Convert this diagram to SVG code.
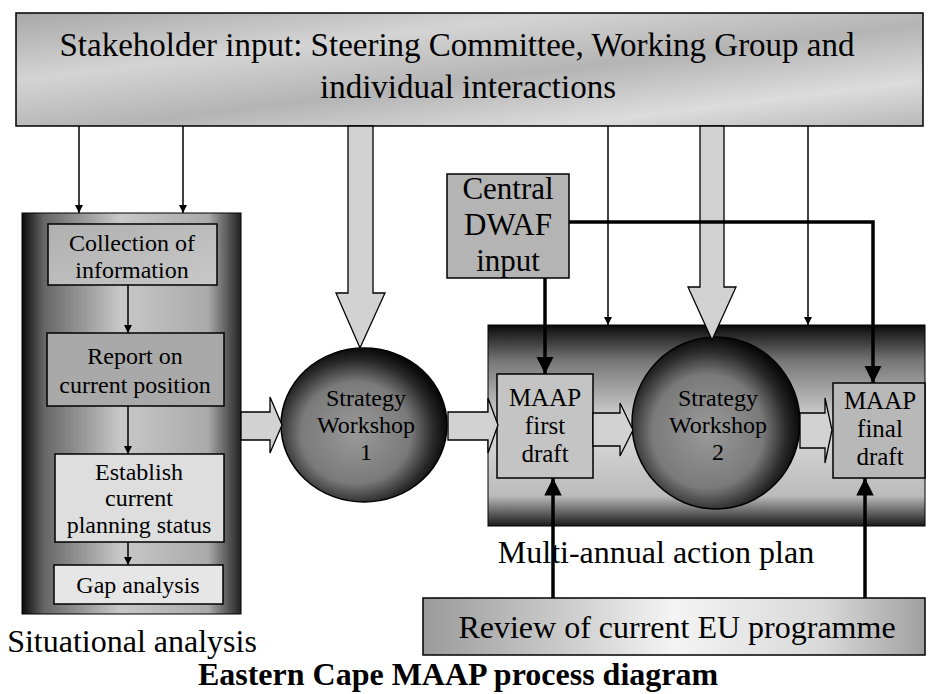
<svg xmlns="http://www.w3.org/2000/svg" width="928" height="694" viewBox="0 0 928 694">
<style>
text{font-family:"Liberation Serif","Times New Roman",serif;fill:#000;text-anchor:middle}
.box{stroke:#000;stroke-width:1.5}
.thin{stroke:#000;stroke-width:1.5;fill:none}
.thick{stroke:#000;stroke-width:3.5;fill:none}
.hollow{fill:#d2d2d2;stroke:#000;stroke-width:1.3}
</style>
<defs>
<linearGradient id="gTop" x1="0" y1="0" x2="1" y2="1">
<stop offset="0" stop-color="#a8a8a8"/><stop offset="0.3" stop-color="#d4d4d4"/><stop offset="0.55" stop-color="#b4b4b4"/><stop offset="0.8" stop-color="#dcdcdc"/><stop offset="1" stop-color="#b8b8b8"/>
</linearGradient>
<linearGradient id="gSit" x1="0" y1="0" x2="1" y2="0">
<stop offset="0" stop-color="#0a0a0a"/><stop offset="0.1" stop-color="#666"/><stop offset="0.45" stop-color="#c8c8c8"/><stop offset="0.85" stop-color="#aaa"/><stop offset="1" stop-color="#222"/>
</linearGradient>
<linearGradient id="gMulti" x1="0" y1="0" x2="0" y2="1">
<stop offset="0" stop-color="#0a0a0a"/><stop offset="0.18" stop-color="#777"/><stop offset="0.5" stop-color="#dcdcdc"/><stop offset="0.85" stop-color="#bbb"/><stop offset="1" stop-color="#1a1a1a"/>
</linearGradient>
<radialGradient id="gCirc" cx="0.45" cy="0.55" r="0.55">
<stop offset="0" stop-color="#9a9a9a"/><stop offset="0.6" stop-color="#7a7a7a"/><stop offset="0.85" stop-color="#2a2a2a"/><stop offset="1" stop-color="#0a0a0a"/>
</radialGradient>
<linearGradient id="gInner" x1="0" y1="0" x2="1" y2="1">
<stop offset="0" stop-color="#b0b0b0"/><stop offset="1" stop-color="#c8c8c8"/>
</linearGradient>
<linearGradient id="gRev" x1="0" y1="0" x2="1" y2="0">
<stop offset="0" stop-color="#9a9a9a"/><stop offset="0.3" stop-color="#cfcfcf"/><stop offset="0.5" stop-color="#f4f4f4"/><stop offset="0.8" stop-color="#d8d8d8"/><stop offset="1" stop-color="#a0a0a0"/>
</linearGradient>
<marker id="ah" viewBox="0 0 10 10" refX="10" refY="5" markerWidth="8" markerHeight="8" markerUnits="userSpaceOnUse" orient="auto">
<path d="M0,0 L10,5 L0,10 z" fill="#000"/>
</marker>
<marker id="ahb" viewBox="0 0 10 10" refX="10" refY="5" markerWidth="5" markerHeight="5" orient="auto">
<path d="M0,0 L10,5 L0,10 z" fill="#000"/>
</marker>
</defs>

<g id="stakeholder">
<rect class="box" x="16" y="13" width="907" height="113" fill="url(#gTop)"/>
<text x="457" y="56" font-size="33">Stakeholder input: Steering Committee, Working Group and</text>
<text x="468" y="98" font-size="33">individual interactions</text>
</g>

<g id="situational">
<rect x="22" y="213" width="219" height="401" fill="url(#gSit)" stroke="#000" stroke-width="1"/>
<text x="132" y="652" font-size="32">Situational analysis</text>
</g>

<g id="collection">
<rect class="box" x="48" y="224" width="169" height="61" fill="url(#gInner)" stroke-width="1"/>
<text x="132" y="251" font-size="24">Collection of</text>
<text x="132" y="278" font-size="24">information</text>
</g>
<g id="report">
<rect class="box" x="47" y="333" width="177" height="73" fill="#a9a9a9" stroke-width="1"/>
<text x="135" y="364" font-size="24">Report on</text>
<text x="135" y="393" font-size="24">current position</text>
</g>
<g id="establish">
<rect class="box" x="55" y="454" width="169" height="88" fill="#dedede" stroke-width="1"/>
<text x="139" y="480" font-size="24">Establish</text>
<text x="139" y="506" font-size="24">current</text>
<text x="139" y="533" font-size="24">planning status</text>
</g>
<g id="gap">
<rect class="box" x="54" y="565" width="169" height="39" fill="#e6e6e6" stroke-width="1"/>
<text x="138" y="593" font-size="24">Gap analysis</text>
</g>

<g id="workshop1">
<ellipse cx="364" cy="425" rx="83" ry="77" fill="url(#gCirc)" stroke="#000" stroke-width="1.5"/>
<text x="366" y="406" font-size="24">Strategy</text>
<text x="366" y="433" font-size="24">Workshop</text>
<text x="366" y="460" font-size="24">1</text>
</g>

<g id="multiannual">
<rect x="488" y="325" width="437" height="201" fill="url(#gMulti)" stroke="#000" stroke-width="1"/>
<text x="656" y="563" font-size="32">Multi-annual action plan</text>
</g>

<g id="central">
<rect class="box" x="447" y="174" width="122" height="104" fill="#b4b4b4" stroke-width="1"/>
<text x="508" y="199" font-size="31">Central</text>
<text x="508" y="235" font-size="31">DWAF</text>
<text x="508" y="271" font-size="31">input</text>
</g>

<g id="firstdraft">
<rect class="box" x="497" y="374" width="96" height="104" fill="#c4c4c4" stroke-width="1"/>
<text x="545" y="406" font-size="25">MAAP</text>
<text x="545" y="434" font-size="25">first</text>
<text x="545" y="462" font-size="25">draft</text>
</g>

<g id="workshop2">
<ellipse cx="716" cy="423" rx="84" ry="86" fill="url(#gCirc)" stroke="#000" stroke-width="1.5"/>
<text x="718" y="406" font-size="24" fill="#555">Strategy</text>
<text x="718" y="433" font-size="24">Workshop</text>
<text x="718" y="460" font-size="24" fill="#666">2</text>
</g>

<g id="finaldraft">
<rect class="box" x="833" y="383" width="92" height="95" fill="#b8b8b8" stroke-width="1"/>
<text x="880" y="409" font-size="25">MAAP</text>
<text x="880" y="437" font-size="25">final</text>
<text x="880" y="465" font-size="25">draft</text>
</g>

<g id="review">
<rect class="box" x="423" y="598" width="502" height="57" fill="url(#gRev)" stroke-width="1"/>
<text x="677" y="638" font-size="32">Review of current EU programme</text>
</g>

<text x="458" y="685" font-size="32" font-weight="bold">Eastern Cape MAAP process diagram</text>

<g id="connectors">
<line class="thin" x1="79" y1="126" x2="79" y2="213" marker-end="url(#ah)"/>
<line class="thin" x1="183" y1="126" x2="183" y2="213" marker-end="url(#ah)"/>
<line class="thin" x1="608" y1="126" x2="608" y2="325" marker-end="url(#ah)"/>
<line class="thin" x1="808" y1="126" x2="808" y2="325" marker-end="url(#ah)"/>
<line class="thin" x1="128" y1="285" x2="128" y2="333" marker-end="url(#ah)"/>
<line class="thin" x1="128" y1="406" x2="128" y2="454" marker-end="url(#ah)"/>
<line class="thin" x1="128" y1="542" x2="128" y2="565" marker-end="url(#ah)"/>
<path class="hollow" d="M348,126 L373,126 L373,293 L385,293 L360,348 L336,293 L348,293 Z"/>
<path class="hollow" d="M700,126 L724,126 L724,287 L736,287 L712,340 L688,287 L700,287 Z"/>
<path class="hollow" d="M241,412 L270,412 L270,397 L282,425 L270,453 L270,440 L241,440 Z"/>
<path class="hollow" d="M448,412 L488,412 L488,398 L498,425 L488,453 L488,440 L448,440 Z"/>
<path class="hollow" d="M593,413 L620,413 L620,403 L633,430 L620,456 L620,446 L593,446 Z" fill="#f4f4f4"/>
<path class="hollow" d="M800,413 L825,413 L825,398 L832,430 L825,463 L825,448 L800,448 Z"/>
<line class="thick" x1="545" y1="278" x2="545" y2="374" marker-end="url(#ahb)"/>
<path class="thick" d="M569,222 L873,222 L873,383" marker-end="url(#ahb)"/>
<line class="thick" x1="553" y1="598" x2="553" y2="478" marker-end="url(#ahb)"/>
<line class="thick" x1="865" y1="598" x2="865" y2="478" marker-end="url(#ahb)"/>
</g>
</svg>
